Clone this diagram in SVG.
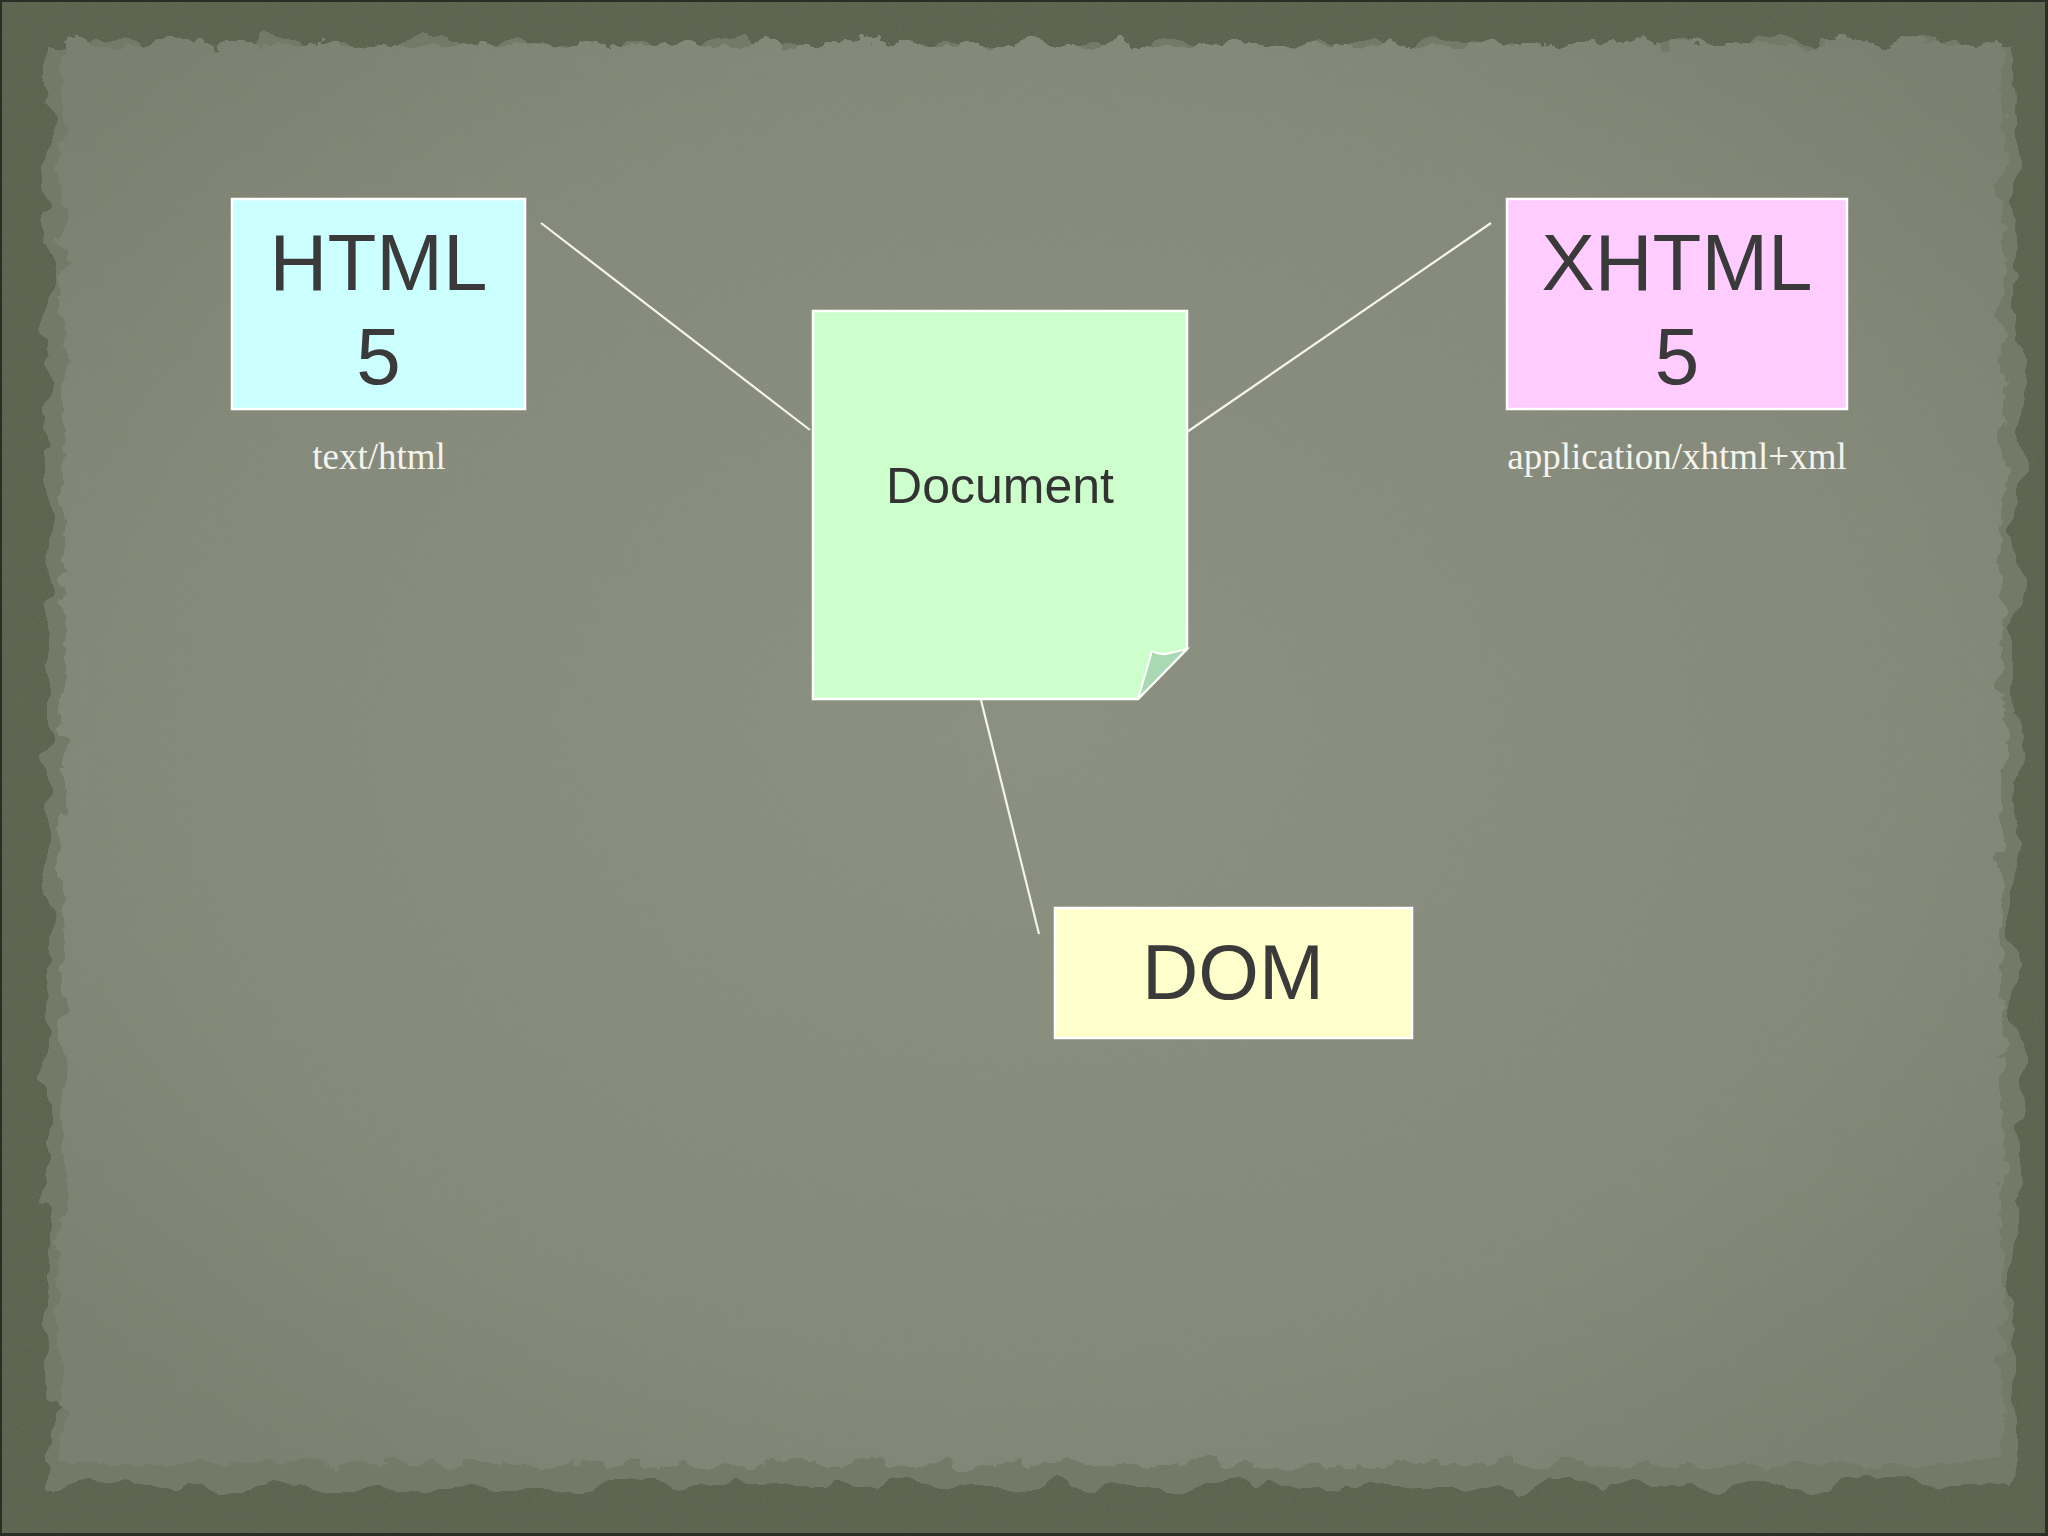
<svg xmlns="http://www.w3.org/2000/svg" width="2048" height="1536" viewBox="0 0 2048 1536">
  <defs>
    <radialGradient id="paperGrad" cx="50%" cy="48%" r="65%">
      <stop offset="0" stop-color="#8d9182"/>
      <stop offset="0.7" stop-color="#868a7a"/>
      <stop offset="1" stop-color="#7b8070"/>
    </radialGradient>
    <filter id="torn" x="-5%" y="-5%" width="110%" height="110%">
      <feTurbulence type="fractalNoise" baseFrequency="0.04" numOctaves="4" seed="3" result="n"/>
      <feDisplacementMap in="SourceGraphic" in2="n" scale="28" xChannelSelector="R" yChannelSelector="G"/>
    </filter>
    <filter id="tornBig" x="-5%" y="-5%" width="110%" height="110%">
      <feTurbulence type="fractalNoise" baseFrequency="0.02" numOctaves="3" seed="7" result="n"/>
      <feDisplacementMap in="SourceGraphic" in2="n" scale="40" xChannelSelector="R" yChannelSelector="G"/>
    </filter>
    <filter id="grain" x="0" y="0" width="100%" height="100%">
      <feTurbulence type="fractalNoise" baseFrequency="0.9" numOctaves="2" seed="11" result="t"/>
      <feColorMatrix in="t" type="matrix" values="0 0 0 0 0.2  0 0 0 0 0.22  0 0 0 0 0.15  0 0 0 0.9 -0.35"/>
    </filter>
    <style>
      .box { stroke: #ffffff; stroke-width: 2.5; }
      .big { font-family: "Liberation Sans", Arial, sans-serif; font-size: 80px; fill: #3a3a3a; text-anchor: middle; }
      .mid { font-family: "Liberation Sans", Arial, sans-serif; font-size: 50px; fill: #333333; text-anchor: middle; }
      .mime { font-family: "Liberation Serif", "Times New Roman", serif; font-size: 37px; fill: #f4f4ee; text-anchor: middle; }
      .conn line { stroke: #f4f4ee; stroke-width: 2.2; }
    </style>
  </defs>

  <!-- background -->
  <rect x="0" y="0" width="2048" height="1536" fill="#5c6450"/>
  <rect x="0" y="0" width="2048" height="1536" filter="url(#grain)" opacity="0.6"/>
  <rect x="0.5" y="0.5" width="2046" height="1534" fill="none" stroke="#2a2e24" stroke-width="3"/>
  <rect x="48" y="46" width="1968" height="1440" fill="#737a68" filter="url(#tornBig)"/>
  <rect x="62" y="44" width="1940" height="1420" fill="url(#paperGrad)" filter="url(#torn)"/>
  <rect x="90" y="70" width="1880" height="1370" filter="url(#grain)" opacity="0.25"/>

  <!-- connectors -->
  <g id="connectors" class="conn">
    <line x1="541" y1="223" x2="810" y2="430"/>
    <line x1="1491" y1="223" x2="1187" y2="432"/>
    <line x1="981" y1="700" x2="1039" y2="934"/>
  </g>

  <g id="node-html">
    <rect class="box" x="232" y="199" width="293" height="210" fill="#ccffff"/>
    <text class="big" x="378.5" y="290">HTML</text>
    <text class="big" x="378.5" y="384">5</text>
    <text class="mime" x="379" y="469">text/html</text>
  </g>

  <g id="node-xhtml">
    <rect class="box" x="1507" y="199" width="340" height="210" fill="#ffccff"/>
    <text class="big" x="1677" y="290">XHTML</text>
    <text class="big" x="1677" y="384">5</text>
    <text class="mime" x="1677" y="469">application/xhtml+xml</text>
  </g>

  <g id="node-document">
    <path class="box" d="M813,311 L1187,311 L1187,649 L1138,699 L813,699 Z" fill="#ccffcc"/>
    <path d="M1152,651 Q1160,656 1170,653 L1187,649 L1138,699 Z" fill="#a9d9b3" stroke="#ffffff" stroke-width="2"/>
    <text class="mid" x="1000" y="503">Document</text>
  </g>

  <g id="node-dom">
    <rect class="box" x="1055" y="908" width="357" height="130" fill="#ffffcc"/>
    <text class="big" x="1233" y="999" style="font-size:78px">DOM</text>
  </g>
</svg>
